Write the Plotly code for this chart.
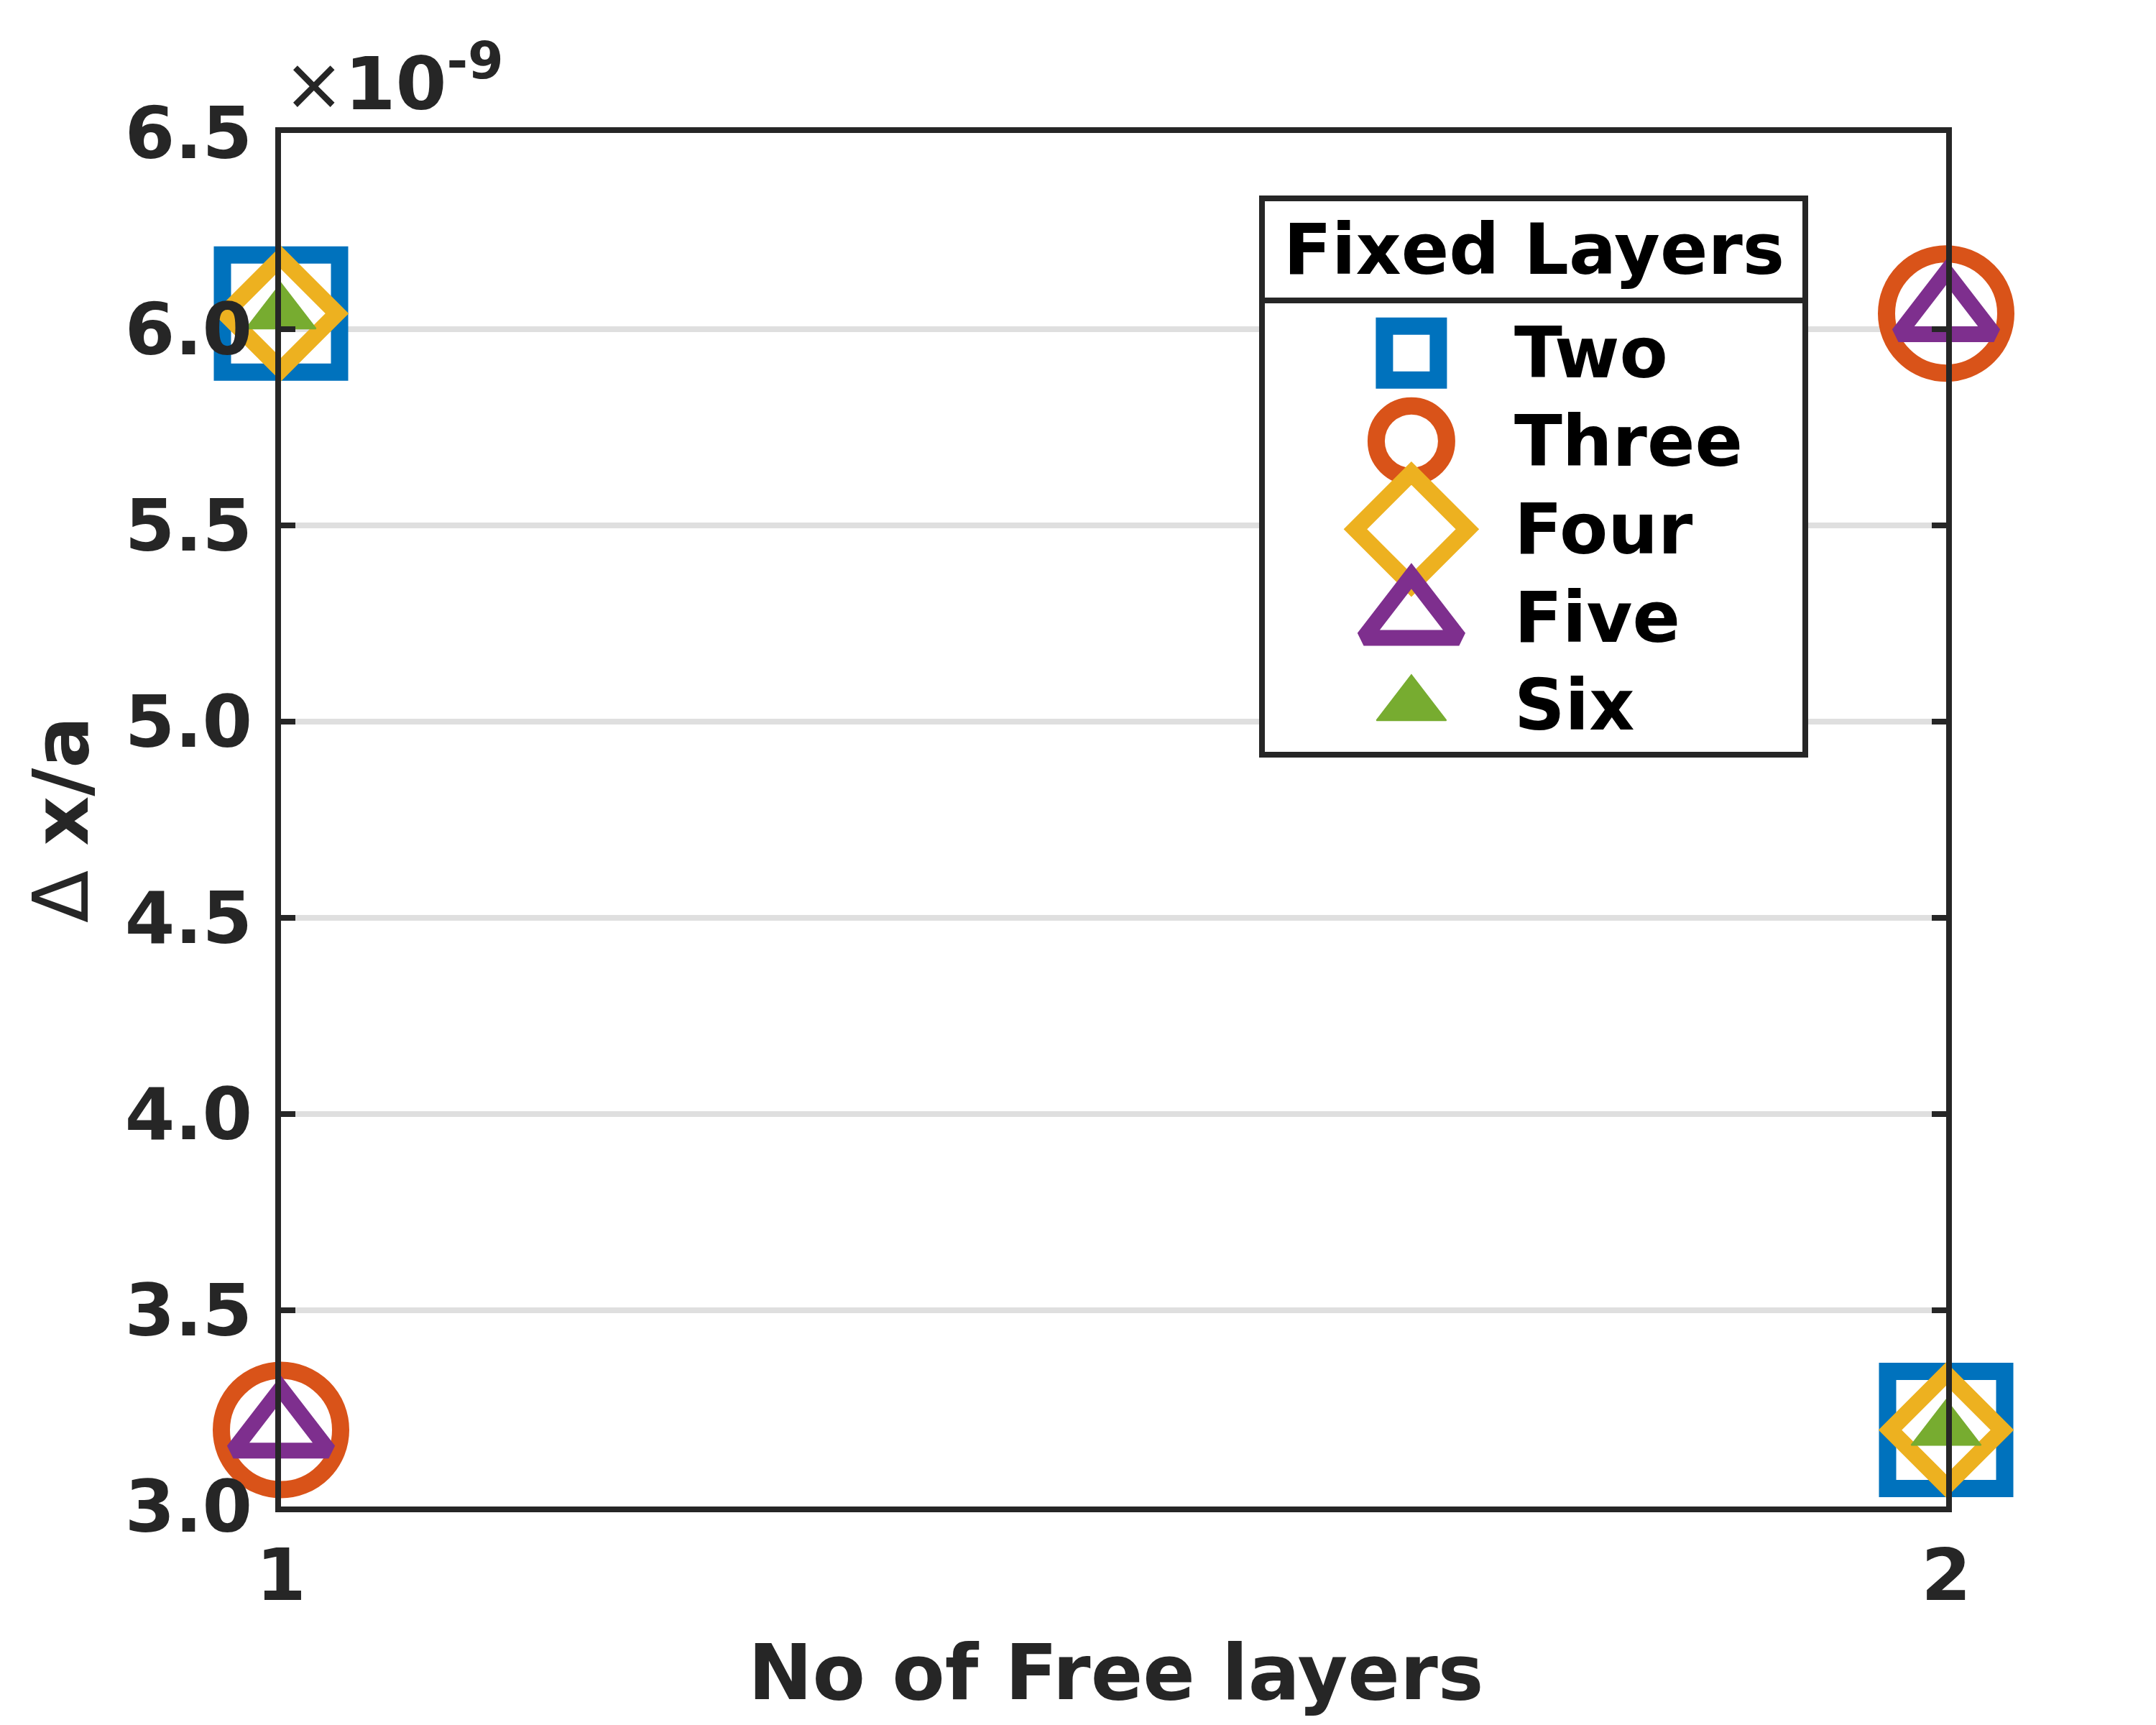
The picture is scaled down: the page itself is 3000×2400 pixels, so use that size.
import plotly.graph_objects as go

# data (dx/a in units of 1e-9)
free_layers = [1, 2]
series_names = ['Two', 'Three', 'Four', 'Five', 'Six']
dx_two = [6.04, 3.195]
dx_three = [3.195, 6.04]
dx_four = [6.04, 3.195]
dx_five = [3.195, 6.04]
dx_six = [6.04, 3.195]
y_ticks = [3.0, 3.5, 4.0, 4.5, 5.0, 5.5, 6.0, 6.5]

series_values = [dx_two, dx_three, dx_four, dx_five, dx_six]
colors = ['#0072BD', '#D95319', '#EDB120', '#7E2F8E', '#77AC30']
symbols = ['square-open', 'circle-open', 'diamond-open', 'triangle-up-open', 'triangle-up']
sizes = [163, 166, 120, 115, 84]
legend_sizes = [75, 98, 120, 115, 84]
line_widths = [24, 24, 23, 22, 2]

AX = '#262626'
FONT = 'DejaVu Sans'

# plot area in page pixels (page has an 8px body margin)
OFF = 8
PL, PR, PT, PB = 391, 2708, 185, 2096


def px_x(p):
    return (p - PL) / (PR - PL)


def px_y(p):
    return (PB - p) / (PB - PT)


fig = go.Figure()

for name, vals, color, sym, size, lw in zip(series_names, series_values, colors, symbols, sizes, line_widths):
    fig.add_trace(
        go.Scatter(
            x=free_layers,
            y=vals,
            mode='markers',
            name=name,
            cliponaxis=False,
            showlegend=False,
            marker={'symbol': sym, 'size': size, 'color': color,
                    'line': {'color': color, 'width': lw}},
        )
    )

# hand-made legend (big symbols like the original)
leg_x0, leg_x1, leg_y0, leg_y1, leg_sep = 1756, 2512, 276, 1050, 418
for i, (name, color, sym, size, lw) in enumerate(zip(series_names, colors, symbols, legend_sizes, line_widths)):
    fig.add_trace(
        go.Scatter(
            x=[0.275], y=[i], xaxis='x2', yaxis='y2',
            mode='markers', cliponaxis=False, showlegend=False, hoverinfo='skip',
            marker={'symbol': sym, 'size': size, 'color': color,
                    'line': {'color': color, 'width': lw}},
        )
    )
    fig.add_annotation(
        x=0.462, y=i, xref='x2', yref='y2', text=name, showarrow=False,
        xanchor='left', yanchor='middle',
        font={'family': FONT, 'size': 98, 'color': 'black', 'weight': 'bold'},
    )

fig.add_annotation(
    x=px_x((leg_x0 + leg_x1) / 2), y=px_y(347), xref='paper', yref='paper',
    text='Fixed Layers', showarrow=False, xanchor='center', yanchor='middle',
    font={'family': FONT, 'size': 98, 'color': 'black', 'weight': 'bold'},
)
fig.add_shape(type='rect', xref='paper', yref='paper', layer='between',
              x0=px_x(leg_x0), x1=px_x(leg_x1), y0=px_y(leg_y1), y1=px_y(leg_y0),
              fillcolor='white', line={'width': 0})
fig.add_shape(type='rect', xref='paper', yref='paper', layer='above',
              x0=px_x(leg_x0), x1=px_x(leg_x1), y0=px_y(leg_y1), y1=px_y(leg_y0),
              line={'color': AX, 'width': 8})
fig.add_shape(type='line', xref='paper', yref='paper', layer='above',
              x0=px_x(leg_x0), x1=px_x(leg_x1), y0=px_y(leg_sep), y1=px_y(leg_sep),
              line={'color': AX, 'width': 8})

# axis titles and exponent
fig.add_annotation(
    x=px_x(1552), y=px_y(2327), xref='paper', yref='paper', text='No of Free layers',
    showarrow=False, xanchor='center', yanchor='middle',
    font={'family': FONT, 'size': 107, 'color': AX, 'weight': 'bold'},
)
fig.add_annotation(
    x=px_x(85), y=px_y(1140), xref='paper', yref='paper',
    text='<span style="font-weight:normal">Δ </span>x/a', textangle=-90,
    showarrow=False, xanchor='center', yanchor='middle',
    font={'family': FONT, 'size': 107, 'color': AX, 'weight': 'bold'},
)
fig.add_annotation(
    x=px_x(392), y=px_y(178), xref='paper', yref='paper',
    text='<span style="font-weight:normal">×</span>10<sup>-9</sup>',
    showarrow=False, xanchor='left', yanchor='bottom',
    font={'family': FONT, 'size': 102, 'color': AX, 'weight': 'bold'},
)

tickfont = {'family': FONT, 'size': 100, 'color': AX, 'weight': 'bold'}
fig.update_layout(
    width=3000, height=2400,
    margin={'l': PL - OFF, 'r': 3000 - PR + OFF, 't': PT - OFF, 'b': 2400 - PB + OFF},
    plot_bgcolor='white', paper_bgcolor='white',
    showlegend=False,
    xaxis={'range': [1, 2], 'tickvals': free_layers, 'showgrid': False, 'zeroline': False,
           'showline': True, 'mirror': 'ticks', 'linecolor': AX, 'linewidth': 8,
           'ticks': 'inside', 'ticklen': 20, 'tickwidth': 8, 'tickcolor': AX,
           'tickfont': tickfont, 'ticklabelstandoff': 2},
    yaxis={'range': [3, 6.5], 'tickvals': y_ticks, 'tickformat': '.1f',
           'showgrid': True, 'gridcolor': '#DFDFDF', 'gridwidth': 8, 'zeroline': False,
           'showline': True, 'mirror': 'ticks', 'linecolor': AX, 'linewidth': 8,
           'ticks': 'inside', 'ticklen': 20, 'tickwidth': 8, 'tickcolor': AX,
           'tickfont': tickfont, 'ticklabelstandoff': 12},
    xaxis2={'domain': [px_x(leg_x0), px_x(leg_x1)], 'range': [0, 1], 'visible': False,
            'anchor': 'y2'},
    yaxis2={'domain': [px_y(1042.5), px_y(430)], 'range': [4.5, -0.5], 'visible': False,
            'anchor': 'x2'},
)

fig.write_html('out.html')
